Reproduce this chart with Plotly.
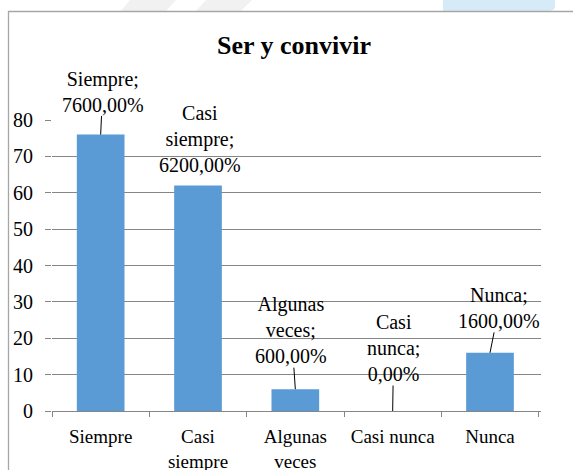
import plotly.graph_objects as go

# ---- data ----
categories = ["Siempre", "Casi siempre", "Algunas veces", "Casi nunca", "Nunca"]
tick_labels = ["Siempre", "Casi<br>siempre", "Algunas<br>veces", "Casi nunca", "Nunca"]
values = [76, 62, 6, 0, 16]
label_names = ["Siempre;", "Casi<br>siempre;", "Algunas<br>veces;", "Casi<br>nunca;", "Nunca;"]
title_text = "Ser y convivir"


def pct(v):
    s = f"{v * 100:.2f}%"
    return s.replace(".", ",")


data_labels = [f"{n}<br>{pct(v)}" for n, v in zip(label_names, values)]

# ---- layout geometry (pixels) ----
W, H = 573, 470
L, R, T, B = 52, 32, 120, 59
PW, PH = W - L - R, H - T - B

def px(x):
    return (x - L) / PW

def py(y):
    return (H - B - y) / PH

FONT = "Liberation Serif, Times New Roman, serif"
FS = 20
BLUE = "#5B9BD5"
GRID = "#868686"

fig = go.Figure()
fig.add_trace(go.Bar(
    x=categories, y=values,
    marker=dict(color=BLUE, line=dict(width=0)),
    hoverinfo="skip",
))

# label offsets (pixels) for the data-label callouts
offsets = [(2, -43), (2, -46), (-4, -59), (1, -63), (9, -45)]
leader = [True, False, True, True, True]

annotations = []
for c, v, t, (ax, ay), show in zip(categories, values, data_labels, offsets, leader):
    annotations.append(dict(
        x=c, y=v, xref="x", yref="y", text=t,
        showarrow=True, arrowhead=0, arrowwidth=1,
        arrowcolor="black" if show else "rgba(0,0,0,0)",
        ax=ax, ay=ay, font=dict(family=FONT, size=FS, color="black"),
        align="center", borderpad=0,
    ))

annotations.append(dict(
    x=px(294), y=py(45), xref="paper", yref="paper",
    text=f"<b>{title_text}</b>", showarrow=False,
    font=dict(family=FONT, size=26, color="black"),
    xanchor="center", yanchor="middle",
))

shapes = [
    # watermark bits at top
    dict(type="path", xref="paper", yref="paper",
         path=f"M {px(130)},{py(0)} L {px(176)},{py(0)} L {px(166)},{py(11)} L {px(121)},{py(11)} Z",
         fillcolor="#f1f1f1", line=dict(width=0), layer="below"),
    dict(type="path", xref="paper", yref="paper",
         path=f"M {px(206)},{py(0)} L {px(252)},{py(0)} L {px(241)},{py(11)} L {px(196)},{py(11)} Z",
         fillcolor="#f1f1f1", line=dict(width=0), layer="below"),
    dict(type="path", xref="paper", yref="paper",
         path=f"M {px(443)},{py(0)} L {px(555)},{py(0)} L {px(555)},{py(6)} Q {px(555)},{py(11)} {px(548)},{py(11)} L {px(443)},{py(11)} Z",
         fillcolor="#d7eaf8", line=dict(width=0), layer="below"),
    # chart border
    dict(type="rect", xref="paper", yref="paper",
         x0=px(8.5), y0=py(11.5), x1=px(W + 20), y1=py(H + 20),
         line=dict(color="#a6a6a6", width=1.3), fillcolor="rgba(0,0,0,0)", layer="below"),
]

fig.update_layout(
    width=W, height=H,
    margin=dict(l=L, r=R, t=T, b=B, autoexpand=False),
    paper_bgcolor="white", plot_bgcolor="white",
    showlegend=False,
    bargap=0.51,
    annotations=annotations,
    shapes=shapes,
    font=dict(family=FONT, size=FS, color="black"),
    xaxis=dict(
        type="category", tickmode="array", tickvals=categories, ticktext=tick_labels,
        tickson="boundaries", ticks="outside", ticklen=5, tickcolor=GRID, tickwidth=1,
        showline=True, linecolor=GRID, linewidth=1, showgrid=False,
        tickfont=dict(family=FONT, size=19, color="black"),
        ticklabelstandoff=8, tickangle=0, automargin=False,
    ),
    yaxis=dict(
        range=[0, 80], dtick=10, tick0=0,
        showgrid=True, gridcolor=GRID, gridwidth=1,
        ticks="outside", ticklen=6, tickcolor=GRID,
        showline=False, zeroline=False,
        tickfont=dict(family=FONT, size=FS, color="black"),
        ticklabelstandoff=8, automargin=False,
    ),
)

fig.write_html(
    "out.html",
    config={"displayModeBar": False},
    post_script="document.body.style.margin='0';document.body.style.padding='0';document.body.style.overflow='hidden';",
)
